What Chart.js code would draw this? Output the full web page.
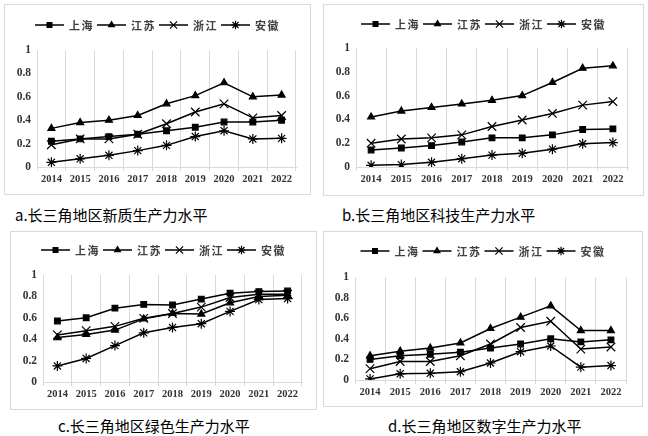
<!DOCTYPE html>
<html>
<head>
<meta charset="utf-8">
<script src="https://cdn.jsdelivr.net/npm/chart.js@4/dist/chart.umd.min.js"></script>
<style>
  body { margin: 0; background: #fff; }
  #page { position: relative; width: 648px; height: 436px; overflow: hidden; }
  .panel { position: absolute; border: 1px solid #d9d9d9; box-sizing: border-box; }
  .panel div { position: relative; }
  .caption { position: absolute; font-family: "Noto Sans CJK SC", sans-serif; font-size: 15px; line-height: 15px; color: #000; white-space: nowrap; }
</style>
</head>
<body>
<div id="page">
  <div class="panel" id="pa" style="left:4px;top:4px;width:307px;height:191px"><div style="width:305px;height:189px"><canvas id="ca"></canvas></div></div>
  <div class="panel" id="pb" style="left:323px;top:4px;width:321px;height:192px"><div style="width:319px;height:190px"><canvas id="cb"></canvas></div></div>
  <div class="panel" id="pc" style="left:10px;top:231px;width:307px;height:179px"><div style="width:305px;height:177px"><canvas id="cc"></canvas></div></div>
  <div class="panel" id="pd" style="left:323px;top:231px;width:320px;height:176px"><div style="width:318px;height:174px"><canvas id="cd"></canvas></div></div>
  <div class="caption" style="left:15px;top:207px">a.长三角地区新质生产力水平</div>
  <div class="caption" style="left:342px;top:207px">b.长三角地区科技生产力水平</div>
  <div class="caption" style="left:58px;top:418px">c.长三角地区绿色生产力水平</div>
  <div class="caption" style="left:388px;top:418px">d.长三角地区数字生产力水平</div>
</div>
<script>
// 데이터
const years = ['2014', '2015', '2016', '2017', '2018', '2019', '2020', '2021', '2022'];
const regions = ['上海', '江苏', '浙江', '安徽'];

// a. 新质生产力
const newQualitySH = [0.22, 0.24, 0.26, 0.28, 0.31, 0.34, 0.385, 0.385, 0.40];
const newQualityJS = [0.33, 0.38, 0.40, 0.44, 0.54, 0.61, 0.72, 0.60, 0.615];
const newQualityZJ = [0.19, 0.24, 0.24, 0.28, 0.37, 0.47, 0.54, 0.42, 0.44];
const newQualityAH = [0.04, 0.07, 0.10, 0.14, 0.185, 0.26, 0.31, 0.24, 0.245];

// b. 科技生产力
const techSH = [0.143, 0.16, 0.18, 0.21, 0.245, 0.245, 0.27, 0.315, 0.32];
const techJS = [0.42, 0.47, 0.50, 0.53, 0.56, 0.60, 0.71, 0.83, 0.85];
const techZJ = [0.20, 0.235, 0.245, 0.27, 0.34, 0.395, 0.45, 0.52, 0.55];
const techAH = [0.014, 0.02, 0.04, 0.07, 0.10, 0.115, 0.15, 0.195, 0.205];

// c. 绿色生产力
const greenSH = [0.57, 0.60, 0.69, 0.725, 0.72, 0.775, 0.83, 0.845, 0.85];
const greenJS = [0.415, 0.445, 0.485, 0.59, 0.64, 0.635, 0.74, 0.80, 0.81];
const greenZJ = [0.44, 0.48, 0.52, 0.595, 0.64, 0.70, 0.79, 0.82, 0.82];
const greenAH = [0.15, 0.22, 0.34, 0.46, 0.51, 0.545, 0.66, 0.77, 0.78];

// d. 数字生产力
const digitalSH = [0.20, 0.235, 0.25, 0.27, 0.31, 0.35, 0.40, 0.37, 0.39];
const digitalJS = [0.235, 0.28, 0.31, 0.36, 0.50, 0.61, 0.72, 0.48, 0.48];
const digitalZJ = [0.11, 0.18, 0.18, 0.235, 0.35, 0.51, 0.57, 0.30, 0.32];
const digitalAH = [0.01, 0.06, 0.065, 0.08, 0.165, 0.275, 0.33, 0.125, 0.14];

// 계열별 마커 스타일
const markers = [
  { pointStyle: 'rect', pointRadius: 4 },
  { pointStyle: 'triangle', pointRadius: 4 },
  { pointStyle: 'crossRot', pointRadius: 6 },
  { pointStyle: 'star', pointRadius: 5 }
];

// 선 + 마커 형태 범례 (엑셀 스타일)
const lineLegend = {
  id: 'lineLegend',
  afterDraw(chart, args, opts) {
    const ctx = chart.ctx;
    ctx.save();
    ctx.font = opts.font;
    ctx.letterSpacing = opts.letterSpacing;
    ctx.textBaseline = 'middle';
    const items = chart.data.datasets.map(ds => ({
      ds,
      w: opts.sample + opts.gap + ctx.measureText(ds.label).width
    }));
    const total = items.reduce((s, it) => s + it.w, 0) + opts.spacing * (items.length - 1);
    let x = (chart.width - total) / 2;
    const y = opts.y;
    items.forEach(({ ds, w }) => {
      ctx.strokeStyle = ds.borderColor;
      ctx.fillStyle = ds.pointBackgroundColor;
      ctx.lineWidth = ds.borderWidth;
      ctx.beginPath();
      ctx.moveTo(x, y);
      ctx.lineTo(x + opts.sample, y);
      ctx.stroke();
      ctx.lineWidth = ds.pointBorderWidth;
      Chart.helpers.drawPoint(ctx, {
        pointStyle: ds.pointStyle, radius: ds.pointRadius * 0.85, rotation: 0, borderWidth: ds.pointBorderWidth
      }, x + opts.sample / 2, y);
      ctx.fillStyle = opts.color;
      ctx.fillText(ds.label, x + opts.sample + opts.gap, y + 1);
      x += w + opts.spacing;
    });
    ctx.restore();
  }
};

const renderPanel = (canvasId, series, plot, legendY) => {
  const canvas = document.getElementById(canvasId);
  const w = canvas.parentNode.clientWidth;
  const h = canvas.parentNode.clientHeight;

  new Chart(canvas, {
    type: 'line',
    data: {
      labels: years,
      datasets: series.map((values, i) => ({
        label: regions[i],
        data: values,
        borderColor: '#000',
        borderWidth: 1.5,
        pointBackgroundColor: '#000',
        pointBorderColor: '#000',
        pointBorderWidth: 1.2,
        pointStyle: markers[i].pointStyle,
        pointRadius: markers[i].pointRadius,
        tension: 0
      }))
    },
    options: {
      responsive: true,
      maintainAspectRatio: false,
      animation: false,
      layout: { padding: { left: 0, top: plot.t, right: w - plot.r, bottom: 0 } },
      plugins: {
        legend: { display: false },
        tooltip: { enabled: false },
        lineLegend: {
          y: legendY, sample: 29, gap: 5, spacing: 3,
          font: 'bold 11px "Noto Sans CJK SC"', letterSpacing: '1.5px', color: '#404040'
        }
      },
      scales: {
        x: {
          offset: true,
          grid: { offset: true, color: '#d9d9d9', lineWidth: 1, tickLength: 4 },
          border: { display: true, color: '#d9d9d9' },
          ticks: { color: '#333', font: { family: 'Liberation Serif', size: 10.5, weight: 'bold' }, padding: 2, maxRotation: 0, autoSkip: false },
          afterFit: scale => { scale.height = h - plot.b; }
        },
        y: {
          min: 0,
          max: 1,
          grid: { display: false, drawTicks: false },
          border: { display: false },
          ticks: {
            stepSize: 0.2,
            color: '#333',
            font: { family: 'Liberation Serif', size: 11.5, weight: 'bold' },
            padding: 6,
            callback: val => String(Number(val.toFixed(1)))
          },
          afterFit: scale => { scale.width = plot.l; }
        }
      }
    },
    plugins: [lineLegend]
  });
};

renderPanel('ca', [newQualitySH, newQualityJS, newQualityZJ, newQualityAH], { l: 32, t: 45, r: 291, b: 162 }, 20);
renderPanel('cb', [techSH, techJS, techZJ, techAH], { l: 32, t: 43, r: 304, b: 162 }, 19);
renderPanel('cc', [greenSH, greenJS, greenZJ, greenAH], { l: 32, t: 43, r: 291, b: 150 }, 18);
renderPanel('cd', [digitalSH, digitalJS, digitalZJ, digitalAH], { l: 31, t: 45, r: 302, b: 148 }, 19);
</script>
</body>
</html>
